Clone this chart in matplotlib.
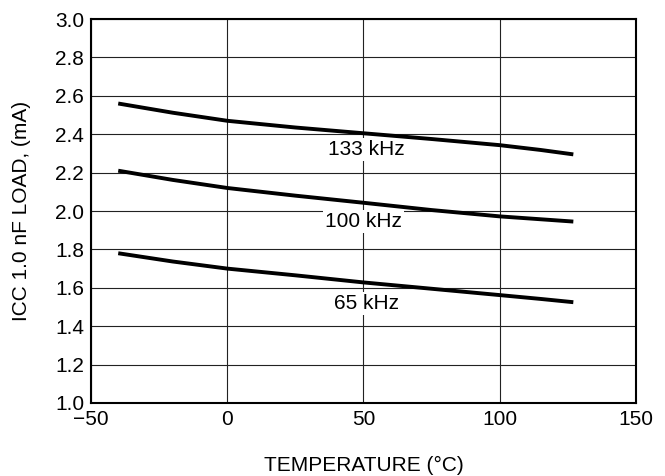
import numpy as np
import matplotlib
matplotlib.use("Agg")
import matplotlib.pyplot as plt

plt.rcParams['font.family'] = ['Liberation Sans', 'DejaVu Sans']

## curve values
temp = [-40, -20, 0, 25, 50, 75, 100, 115, 127]
icc_133 = [2.56, 2.512, 2.47, 2.435, 2.405, 2.375, 2.343, 2.318, 2.295]
icc_100 = [2.21, 2.162, 2.12, 2.08, 2.043, 2.005, 1.972, 1.957, 1.945]
icc_65 = [1.78, 1.737, 1.70, 1.665, 1.628, 1.595, 1.562, 1.542, 1.525]

labels = ["133 kHz", "100 kHz", "65 kHz"]
label_x = [51, 50, 51]
label_y = [2.322, 1.944, 1.52]

x_ticks = [-50, 0, 50, 100, 150]
y_ticks = [1.0, 1.2, 1.4, 1.6, 1.8, 2.0, 2.2, 2.4, 2.6, 2.8, 3.0]

fig = plt.figure(figsize=(6.65, 4.76), dpi=100)
ax = fig.add_axes([0.1368, 0.1534, 0.8196, 0.8066])

for series in [icc_133, icc_100, icc_65]:
    ax.plot(temp, series, color="black", linewidth=2.8, solid_capstyle="butt", zorder=4)

for txt, lx, ly in zip(labels, label_x, label_y):
    ax.text(lx, ly, txt, fontsize=15, ha="center", va="center", zorder=3,
            bbox=dict(facecolor="white", edgecolor="none", pad=1.5))

ax.set_xlim(-50, 150)
ax.set_ylim(1.0, 3.0)
ax.set_xticks(x_ticks)
ax.set_yticks(y_ticks)
ax.set_yticklabels(["%.1f" % v for v in y_ticks])
ax.grid(True, color="#222222", linewidth=0.8)
ax.set_axisbelow(True)
ax.tick_params(length=0, labelsize=15, pad=5)
for s in ax.spines.values():
    s.set_linewidth(1.5)
    s.set_zorder(5)

fig.text(0.547, 0.023, "TEMPERATURE (°C)", fontsize=15, ha="center", va="center")
fig.text(0.033, 0.557, "ICC 1.0 nF LOAD, (mA)", fontsize=15, ha="center", va="center", rotation=90)

fig.savefig("out.png", dpi=100)
